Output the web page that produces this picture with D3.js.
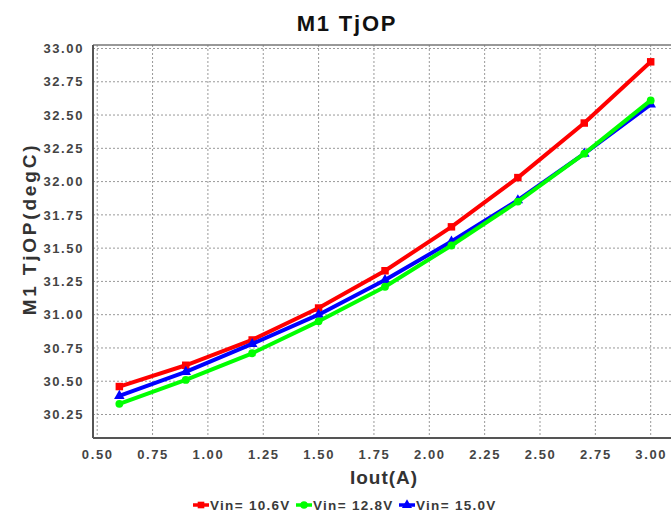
<!DOCTYPE html>
<html><head><meta charset="utf-8">
<script src="https://cdn.jsdelivr.net/npm/d3@7"></script>
<style>body{margin:0;background:#fff}svg{display:block}</style>
</head><body>
<svg id="c" width="671" height="514"></svg>
<script>
const iout = [0.6, 0.9, 1.2, 1.5, 1.8, 2.1, 2.4, 2.7, 3.0];
const vin106 = [30.46, 30.62, 30.81, 31.05, 31.33, 31.66, 32.03, 32.44, 32.90];
const vin128 = [30.33, 30.51, 30.71, 30.95, 31.21, 31.52, 31.85, 32.21, 32.61];
const vin150 = [30.39, 30.57, 30.78, 31.00, 31.26, 31.55, 31.86, 32.21, 32.58];
const seriesNames = ["Vin= 10.6V", "Vin= 12.8V", "Vin= 15.0V"];
const xTicks = [0.5, 0.75, 1.0, 1.25, 1.5, 1.75, 2.0, 2.25, 2.5, 2.75, 3.0];
const yTicks = [30.25, 30.5, 30.75, 31.0, 31.25, 31.5, 31.75, 32.0, 32.25, 32.5, 32.75, 33.0];

const series = [
  {name: seriesNames[0], vals: vin106, color: "#ff0000", marker: "square"},
  {name: seriesNames[1], vals: vin128, color: "#00ff00", marker: "circle"},
  {name: seriesNames[2], vals: vin150, color: "#0000ff", marker: "triangle"}
];

const svg = d3.select("#c");
const L = 93, R = 690, T = 45, B = 438;
const x = d3.scaleLinear().domain([0.5, 3.0]).range([97.2, 650.7]);
const y = d3.scaleLinear().domain([30.25, 33.0]).range([414.5, 48.5]);
const font = "'Liberation Sans', Arial, sans-serif";

// grid
const g = svg.append("g");
g.selectAll(".gx").data(xTicks).join("line")
  .attr("x1", d => x(d)).attr("x2", d => x(d)).attr("y1", T).attr("y2", B)
  .attr("stroke", "#999").attr("stroke-width", 1).attr("stroke-dasharray", "2,2");
g.selectAll(".gy").data(yTicks).join("line")
  .attr("x1", L).attr("x2", R).attr("y1", d => y(d)).attr("y2", d => y(d))
  .attr("stroke", "#999").attr("stroke-width", 1).attr("stroke-dasharray", "2,2");

// frame
svg.append("line").attr("x1", L).attr("x2", R).attr("y1", T).attr("y2", T).attr("stroke", "#777").attr("stroke-width", 1.5);
svg.append("line").attr("x1", L).attr("x2", L).attr("y1", T).attr("y2", B).attr("stroke", "#555").attr("stroke-width", 2);
svg.append("line").attr("x1", L).attr("x2", R).attr("y1", B).attr("y2", B).attr("stroke", "#555").attr("stroke-width", 2);

// axes (tick labels via d3 axes)
const xAxis = d3.axisBottom(x).tickValues(xTicks).tickFormat(d3.format(".2f")).tickSize(0).tickPadding(12);
const yAxis = d3.axisLeft(y).tickValues(yTicks).tickFormat(d3.format(".2f")).tickSize(0).tickPadding(9);
const ax = svg.append("g").attr("transform", `translate(0,${B})`).call(xAxis);
const ay = svg.append("g").attr("transform", `translate(${L},0)`).call(yAxis);
[ax, ay].forEach(a => {
  a.select(".domain").remove();
  a.selectAll("text").attr("font-family", font).attr("font-weight", "bold")
    .attr("font-size", 13).attr("fill", "#444").style("letter-spacing", "1.6px");
});

// lines
const line = d3.line().x((d, i) => x(iout[i])).y(d => y(d));
const drawOrder = [0, 2, 1];
const sym = {square: d3.symbolSquare, circle: d3.symbolCircle, triangle: d3.symbolTriangle};
drawOrder.forEach(k => {
  const s = series[k];
  svg.append("path").datum(s.vals).attr("d", line).attr("fill", "none")
    .attr("stroke", s.color).attr("stroke-width", 4).attr("stroke-linejoin", "round");
  svg.append("g").selectAll("path").data(s.vals).join("path")
    .attr("transform", (d, i) => `translate(${x(iout[i])},${y(d)})`)
    .attr("d", d3.symbol().type(sym[s.marker]).size(s.marker === "square" ? 56 : 48))
    .attr("fill", s.color);
});

// title
svg.append("text").attr("x", 347).attr("y", 31).attr("text-anchor", "middle")
  .attr("font-family", font).attr("font-weight", "bold").attr("font-size", 22)
  .style("letter-spacing", "1.8px").attr("fill", "#111").text("M1 TjOP");

// y label
svg.append("text").attr("transform", "translate(36,229) rotate(-90)").attr("text-anchor", "middle")
  .attr("font-family", font).attr("font-weight", "bold").attr("font-size", 19)
  .style("letter-spacing", "2.8px").attr("fill", "#333").text("M1 TjOP(degC)");

// x label
svg.append("text").attr("x", 384).attr("y", 484).attr("text-anchor", "middle")
  .attr("font-family", font).attr("font-weight", "bold").attr("font-size", 19)
  .style("letter-spacing", "1px").attr("fill", "#333").text("Iout(A)");

// legend
const legX = [193, 296, 399];
series.forEach((s, k) => {
  const lg = svg.append("g").attr("transform", `translate(${legX[k]},505)`);
  lg.append("line").attr("x1", 0).attr("x2", 16).attr("y1", 0).attr("y2", 0)
    .attr("stroke", s.color).attr("stroke-width", 3.5);
  lg.append("path").attr("transform", "translate(8,0)")
    .attr("d", d3.symbol().type(sym[s.marker]).size(44)).attr("fill", s.color);
  lg.append("text").attr("x", 17).attr("y", 5).attr("font-family", font)
    .attr("font-weight", "bold").attr("font-size", 13.5).attr("fill", "#3a3a3a")
    .style("letter-spacing", "1.3px").text(s.name);
});
</script>
</body></html>
